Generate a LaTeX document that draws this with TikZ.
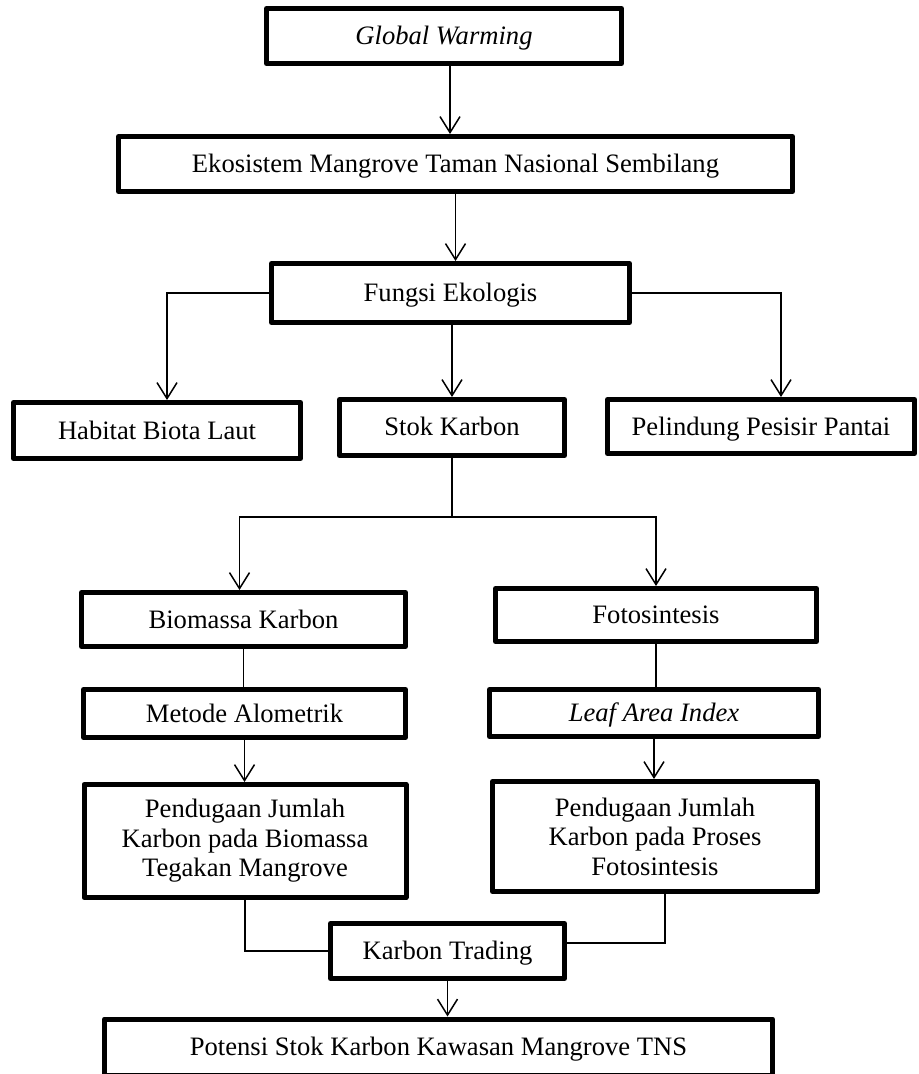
\documentclass[tikz,border=0pt]{standalone}
\usepackage{fontspec}
\setmainfont{Liberation Serif}
\usepackage{tikz}
\usetikzlibrary{arrows.meta}

\begin{document}
\begin{tikzpicture}[->,>={Straight Barb[length=8pt,width=10pt]},x=0.5pt,y=-0.5pt,line width=0.75pt]
		\tikzstyle{every node}=[font=\fontsize{13.3}{14.8}\selectfont]
		\tikzstyle{box}=[draw,line width=2.5pt,line join=round,inner sep=2pt,align=center,text height=10pt,text depth=1.5pt]
		\tikzstyle{tall}=[text height=,text depth=]
		\useasboundingbox (0,0) rectangle (919,1074);

		\node[box,minimum width=177.5pt,minimum height=27.5pt] (gw)		at (444,36)		{\textit{Global Warming}};
		\node[box,minimum width=337pt,minimum height=27.5pt] (eko)		at (455.5,164)	{Ekosistem Mangrove Taman Nasional Sembilang};
		\node[box,minimum width=179pt,minimum height=29.5pt] (fungsi)	at (450.5,293)	{Fungsi Ekologis};
		\node[box,minimum width=143.5pt,minimum height=28pt] (habitat)	at (157,430.5)	{Habitat Biota Laut};
		\node[box,minimum width=112.5pt,minimum height=28pt] (stok)		at (452,427.5)	{Stok Karbon};
		\node[box,minimum width=153.5pt,minimum height=27pt] (pelindung) at (761,426.5)	{Pelindung Pesisir Pantai};
		\node[box,minimum width=162pt,minimum height=27pt] (bio)		at (243.5,619.5)	{Biomassa Karbon};
		\node[box,minimum width=160.5pt,minimum height=26.5pt] (foto)	at (656,615)	{Fotosintesis};
		\node[box,minimum width=161pt,minimum height=24pt] (metode)		at (244.5,713.5)	{Metode Alometrik};
		\node[box,minimum width=164.5pt,minimum height=23.5pt] (lai)		at (654,713)	{\textit{Leaf Area Index}};
		\node[box,tall,minimum width=161pt,minimum height=56.5pt] (pendbio)	at (245,841)	{Pendugaan Jumlah\\Karbon pada Biomassa\\Tegakan Mangrove};
		\node[box,tall,minimum width=162.5pt,minimum height=55pt] (pendfoto)	at (655,836.5)	{Pendugaan Jumlah\\Karbon pada Proses\\Fotosintesis};
		\node[box,minimum width=117pt,minimum height=27.5pt] (trading)	at (447.5,951)	{Karbon Trading};
		\node[box,minimum width=334pt,minimum height=28pt] (potensi)	at (438.5,1047)	{Potensi Stok Karbon Kawasan Mangrove TNS};

		\coordinate (split) at (452,517);

		% vertical arrows
		\path ([xshift=3pt]gw.south)	edge ([xshift=3pt]gw.south |- eko.north)
			 (eko.south)				edge (eko.south |- fungsi.north)
			 (stok.north |- fungsi.south) edge (stok.north)
			 (metode.south)				edge (metode.south |- pendbio.north)
			 (lai.south)				edge (lai.south |- pendfoto.north)
			 (trading.south)			edge (trading.south |- potensi.north);

		% branches
		\draw (fungsi.west) -| ([xshift=5pt]habitat.north);
		\draw (fungsi.east) -| ([xshift=10pt]pelindung.north);
		\draw[-] (stok.south) -- (split);
		\draw (split) -| ([xshift=-2pt]bio.north);
		\draw (split) -| (foto.north);

		% plain links
		\draw[-] (bio.south) -- (bio.south |- metode.north);
		\draw[-] (foto.south) -- (foto.south |- lai.north);
		\draw[-] (pendbio.south) |- (trading.west);
		\draw[-] ([xshift=5pt]pendfoto.south) |- ([yshift=4pt]trading.east);
	\end{tikzpicture}
\end{document}
